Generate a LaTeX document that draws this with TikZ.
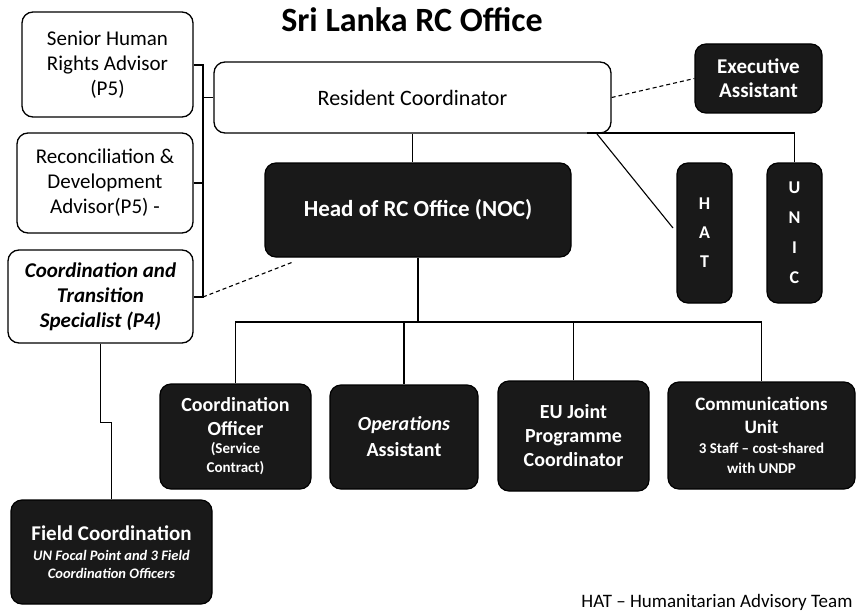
\documentclass[tikz,border=0pt]{standalone}
\usepackage{fontspec}
\setmainfont{Carlito}
\usetikzlibrary{calc}
\newcommand{\smalltxt}[1]{{\fontsize{15}{16}\selectfont #1}}
\newcommand{\tinytxt}[1]{{\fontsize{14.5}{16}\selectfont\itshape #1}}
\begin{document}
\begin{tikzpicture}[x=1pt,y=-1pt,
  lbox/.style={draw=black, line width=1.3pt, rounded corners=11pt, fill=white, align=center, inner sep=0pt},
  dbox/.style={draw=black, line width=1.2pt, rounded corners=11pt, fill=black!90, text=white, align=center, inner sep=0pt, font=\bfseries},
  conn/.style={line width=1.1pt},
  dconn/.style={line width=1.1pt, dash pattern=on 4pt off 3pt},
  f21/.style={font=\fontsize{21}{25}\selectfont}
]
\useasboundingbox (0,0) rectangle (856,615);

% title
\node[font=\fontsize{34}{38}\selectfont\bfseries, anchor=base] (title) at (412,32) {Sri Lanka RC Office};

% left advisors
\node[lbox, f21, minimum width=171, minimum height=105] (shr) at (107.5,64.5) {Senior Human\\Rights Advisor\\(P5)};
\node[lbox, f21, minimum width=176, minimum height=100] (rda) at (105,183) {Reconciliation \&\\Development\\Advisor(P5) -};
\node[lbox, minimum width=185, minimum height=93, font=\fontsize{21}{25}\selectfont\bfseries\itshape] (cts) at (100.5,296.5) {Coordination and\\Transition\\Specialist (P4)};

% resident coordinator
\node[lbox, minimum width=397, minimum height=71, font=\fontsize{22}{26}\selectfont] (rc) at (412.5,97.5) {Resident Coordinator};
\node[dbox, minimum width=127, minimum height=69, font=\fontsize{21}{24}\selectfont\bfseries] (ea) at (758.5,78.5) {Executive\\Assistant};

% head
\node[dbox, minimum width=306, minimum height=94, font=\fontsize{23}{26}\selectfont\bfseries] (head) at (418,210) {Head of RC Office (NOC)};

% HAT and UNIC
\node[dbox, minimum width=55, minimum height=140, font=\fontsize{18}{29}\selectfont\bfseries] (hat) at (704.5,233)
  {\raisebox{-6pt}{\begin{tabular}{@{}c@{}}H\\A\\T\end{tabular}}};
\node[dbox, minimum width=55, minimum height=140, font=\fontsize{18}{30}\selectfont\bfseries] (unic) at (794.5,233) {U\\N\\I\\C};

% bottom row
\node[dbox, minimum width=151, minimum height=105, font=\fontsize{20}{24}\selectfont\bfseries] (co) at (235.5,436.5)
  {Coordination\\Officer\\[-6pt]\smalltxt{(Service}\\[-5pt]\smalltxt{Contract)}};
\node[dbox, minimum width=148, minimum height=104, font=\fontsize{20}{26}\selectfont\bfseries] (oa) at (404,437)
  {\textit{Operations}\\Assistant};
\node[dbox, minimum width=151, minimum height=110, font=\fontsize{20}{24}\selectfont\bfseries] (eu) at (573.5,436) {EU Joint\\Programme\\Coordinator};
\node[dbox, minimum width=187, minimum height=107, font=\fontsize{19}{23}\selectfont\bfseries] (cu) at (761.5,435.5)
  {Communications\\Unit\\[-3pt]\smalltxt{3 Staff -- cost-shared}\\[-3pt]\smalltxt{with UNDP}};
\node[dbox, minimum width=201, minimum height=104, font=\fontsize{21}{25}\selectfont\bfseries] (fc) at (111.5,552)
  {Field Coordination\\[-5pt]\tinytxt{UN Focal Point and 3 Field}\\[-7pt]\tinytxt{Coordination Officers}};

% legend
\node[anchor=base east, font=\fontsize{19}{22}\selectfont] (legend) at (856,607) {HAT -- Humanitarian Advisory Team};

% connectors: advisors bar
\coordinate (bt) at (203,65);
\coordinate (bb) at (203,297);
\draw[conn] (shr.east |- bt) -- (bt) -- (bb) -- (bb -| cts.east);
\draw[conn] (rda.east) -- (rda.east -| bt);
\draw[conn] (rc.west) -- (rc.west -| bt);

% RC to head
\draw[conn] (rc.south) -- (rc.south |- head.north);
% RC to UNIC
\coordinate (u0) at (587,133);
\draw[conn] (u0) -- (u0 -| unic.north) -- (unic.north);
% RC to HAT
\coordinate (h0) at (597,134);
\coordinate (h1) at (673,228);
\draw[conn] (h0) -- (h1);
% RC to executive assistant
\draw[dconn] (rc.east) -- (ea.west);
% CTS to head dashed
\coordinate (d1) at (293,262);
\draw[dconn] (bb) -- (d1);

% head to bottom row
\coordinate (hb) at (418,322);
\draw[conn] (head.south) -- (hb);
\draw[conn] (co.north) |- (cu.north |- hb) -- (cu.north);
\draw[conn] (oa.north) -- (oa.north |- hb);
\draw[conn] (eu.north) -- (eu.north |- hb);

% CTS to field coordination
\draw[conn] (cts.south) -- ++(0,79) -| (fc.north);
\end{tikzpicture}
\end{document}
